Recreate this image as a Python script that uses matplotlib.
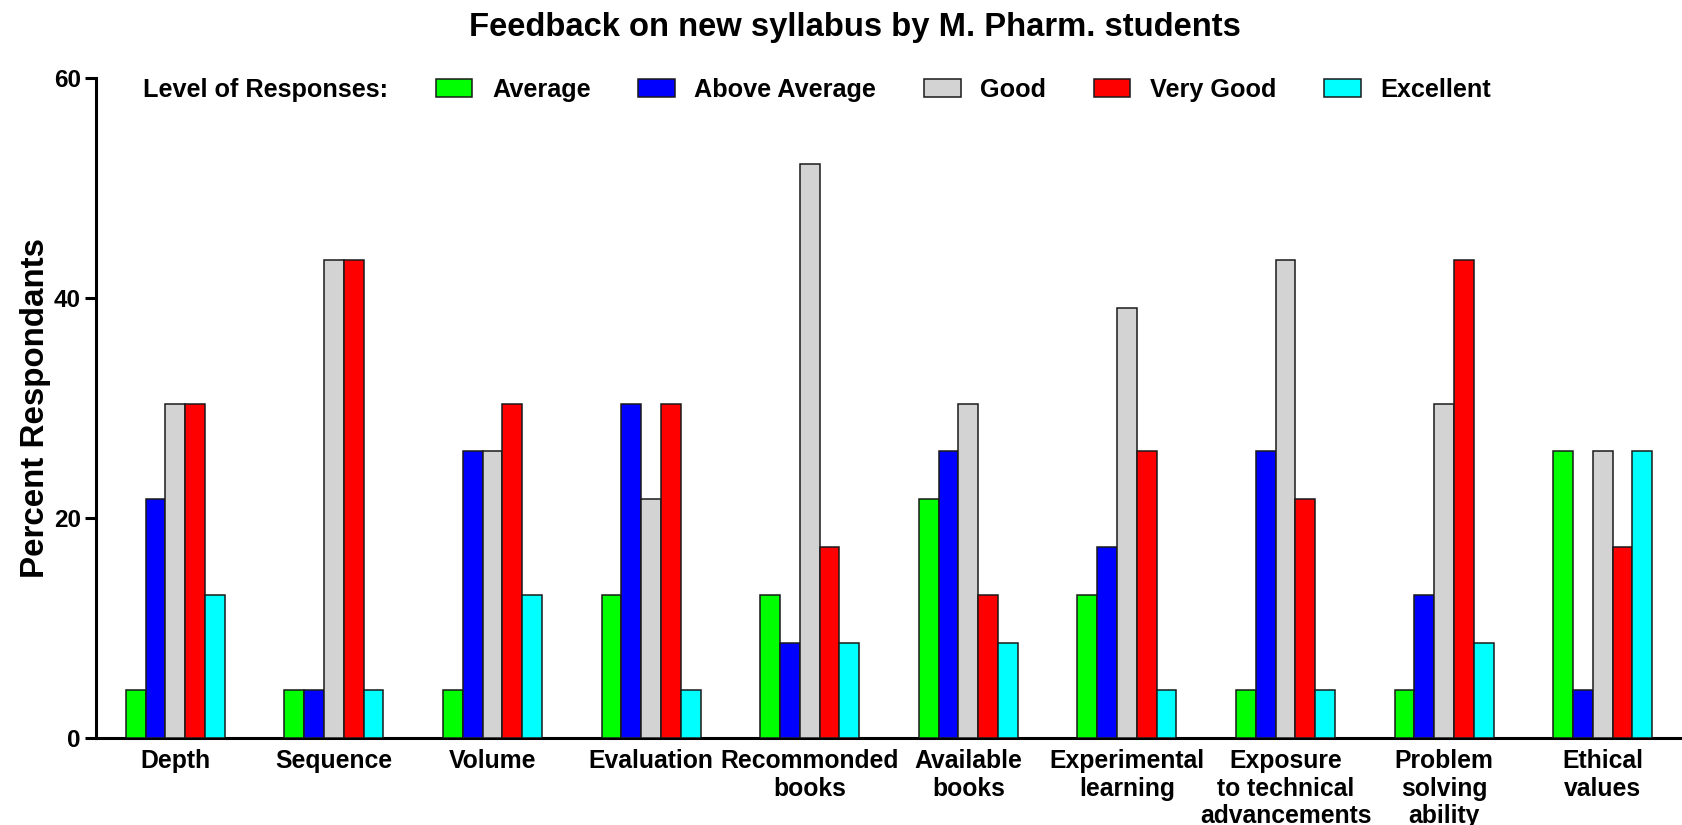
import matplotlib
matplotlib.use("Agg")
import matplotlib.pyplot as plt
import numpy as np

categories = ["Depth", "Sequence", "Volume", "Evaluation", "Recommonded\nbooks",
              "Available\nbooks", "Experimental\nlearning",
              "Exposure\nto technical\nadvancements", "Problem\nsolving\nability",
              "Ethical\nvalues"]
series_names = ["Average", "Above Average", "Good", "Very Good", "Excellent"]
average = [4.35, 4.35, 4.35, 13.04, 13.04, 21.74, 13.04, 4.35, 4.35, 26.09]
above_average = [21.74, 4.35, 26.09, 30.43, 8.70, 26.09, 17.39, 26.09, 13.04, 4.35]
good = [30.43, 43.48, 26.09, 21.74, 52.17, 30.43, 39.13, 43.48, 30.43, 26.09]
very_good = [30.43, 43.48, 30.43, 30.43, 17.39, 13.04, 26.09, 21.74, 43.48, 17.39]
excellent = [13.04, 4.35, 13.04, 4.35, 8.70, 8.70, 4.35, 4.35, 8.70, 26.09]
colors = ["#00FF00", "#0000FF", "#D3D3D3", "#FF0000", "#00FFFF"]
yticks = [0, 20, 40, 60]

plt.rcParams['font.family'] = ['Liberation Sans', 'DejaVu Sans']
plt.rcParams['font.weight'] = 'bold'

fig = plt.figure(figsize=(16.82, 8.25), dpi=100)
bottom_px, top_px = 738.2, 78.3
ax = fig.add_axes([96/1682, 1-bottom_px/825, 1-96/1682, (bottom_px-top_px)/825])

x = np.arange(len(categories))
w = 0.125
handles = []
for i, (vals, c, name) in enumerate(zip([average, above_average, good, very_good, excellent],
                                        colors, series_names)):
    b = ax.bar(x + (i-2)*w, vals, width=w, color=c, edgecolor='#1a1a1a',
               linewidth=1.1, label=name, zorder=3)
    handles.append(b)

ax.set_xlim(-0.5, 9.5)
ax.set_ylim(0, 60)
ax.set_yticks(yticks)
ax.set_yticklabels([str(t) for t in yticks], fontsize=17.5, fontweight='bold')
ax.set_xticks(x)
ax.set_xticklabels(categories, fontsize=17.8, fontweight='bold', linespacing=1.18)
ax.tick_params(axis='x', length=0, pad=8)
ax.tick_params(axis='y', length=8, width=2.2, pad=3)
for s in ['top', 'right']:
    ax.spines[s].set_visible(False)
for s in ['left', 'bottom']:
    ax.spines[s].set_linewidth(2.2)

ax.set_ylabel("Percent Respondants", fontsize=23.9, fontweight='bold', labelpad=2)
fig.text(797/1568, 1-27.5/825, "Feedback on new syllabus by M. Pharm. students",
         ha='center', va='center', fontsize=23.6, fontweight='bold')

leg_y = 1-90/825
fig.text(142.7/1682, leg_y, "Level of Responses:", ha='left', va='center',
         fontsize=18.2, fontweight='bold')
leg = fig.legend(handles=handles, labels=series_names, loc='center left',
                 bbox_to_anchor=(435.6/1682, leg_y), ncol=5, frameon=False,
                 fontsize=18.2, handlelength=1.45, handleheight=0.75,
                 handletextpad=0.78, columnspacing=1.88, borderpad=0,
                 borderaxespad=0)
for t in leg.get_texts():
    t.set_fontweight('bold')

fig.savefig("out.png", dpi=100)
